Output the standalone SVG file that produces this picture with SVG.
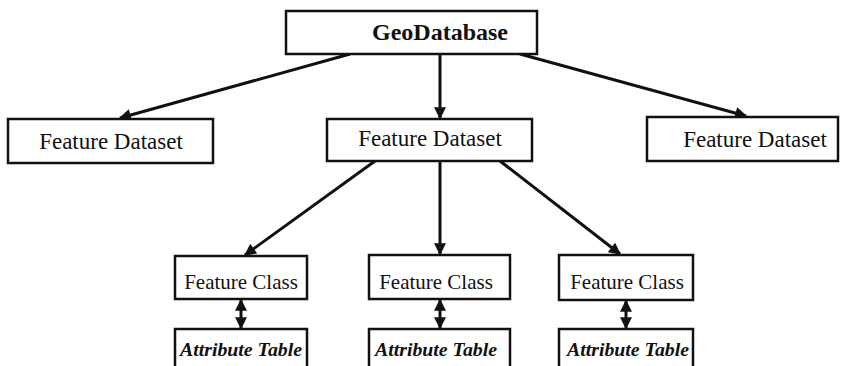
<svg xmlns="http://www.w3.org/2000/svg" width="845" height="366" viewBox="0 0 845 366">
<style>
.box{fill:#fff;stroke:#111;stroke-width:2.5}
.t{font-family:"Liberation Serif","Times New Roman",serif;fill:#111;text-anchor:middle}
.at{font-size:18px;font-style:italic;font-weight:bold}
.ln{stroke:#111;stroke-width:3;fill:none}
</style>
<defs>
<marker id="ah" viewBox="0 0 10 10" refX="9" refY="5" markerWidth="4.5" markerHeight="4" orient="auto-start-reverse" markerUnits="strokeWidth">
<path d="M0,0 L10,5 L0,10 z" fill="#111"/>
</marker>
</defs>
<rect width="845" height="366" fill="#fff"/>
<g id="connectors">
<line class="ln" x1="350" y1="54" x2="120" y2="118" marker-end="url(#ah)"/>
<line class="ln" x1="440" y1="54" x2="440" y2="118" marker-end="url(#ah)"/>
<line class="ln" x1="520" y1="54" x2="746" y2="116" marker-end="url(#ah)"/>
<line class="ln" x1="375" y1="161" x2="245" y2="255" marker-end="url(#ah)"/>
<line class="ln" x1="440" y1="161" x2="440" y2="254" marker-end="url(#ah)"/>
<line class="ln" x1="500" y1="161" x2="620" y2="254" marker-end="url(#ah)"/>
<line class="ln" x1="241" y1="300" x2="241" y2="328" marker-start="url(#ah)" marker-end="url(#ah)"/>
<line class="ln" x1="440" y1="300" x2="440" y2="328" marker-start="url(#ah)" marker-end="url(#ah)"/>
<line class="ln" x1="626" y1="301" x2="626" y2="328" marker-start="url(#ah)" marker-end="url(#ah)"/>
</g>
<g id="geodatabase">
<rect class="box" x="286" y="11" width="251" height="43"/>
<text class="t" x="440" y="40" font-size="24" font-weight="bold">GeoDatabase</text>
</g>
<g id="dataset-left">
<rect class="box" x="8" y="119" width="205" height="44"/>
<text class="t" x="111" y="149" font-size="23">Feature Dataset</text>
</g>
<g id="dataset-middle">
<rect class="box" x="327" y="119" width="205" height="42"/>
<text class="t" x="430" y="146" font-size="23">Feature Dataset</text>
</g>
<g id="dataset-right">
<rect class="box" x="647" y="117" width="191" height="44"/>
<text class="t" x="755" y="147" font-size="23">Feature Dataset</text>
</g>
<g id="class-left">
<rect class="box" x="175" y="256" width="132" height="43"/>
<text class="t" x="241" y="289" font-size="21">Feature Class</text>
</g>
<g id="class-middle">
<rect class="box" x="369" y="255" width="141" height="44"/>
<text class="t" x="436" y="289" font-size="21">Feature Class</text>
</g>
<g id="class-right">
<rect class="box" x="559" y="255" width="134" height="45"/>
<text class="t" x="627" y="289" font-size="21">Feature Class</text>
</g>
<g id="table-left">
<rect class="box" x="175" y="329" width="132" height="42"/>
<text class="t at" x="241" y="356" textLength="122" lengthAdjust="spacingAndGlyphs">Attribute Table</text>
</g>
<g id="table-middle">
<rect class="box" x="369" y="329" width="141" height="42"/>
<text class="t at" x="436" y="356" textLength="122" lengthAdjust="spacingAndGlyphs">Attribute Table</text>
</g>
<g id="table-right">
<rect class="box" x="559" y="329" width="134" height="42"/>
<text class="t at" x="628" y="356" textLength="122" lengthAdjust="spacingAndGlyphs">Attribute Table</text>
</g>
</svg>
